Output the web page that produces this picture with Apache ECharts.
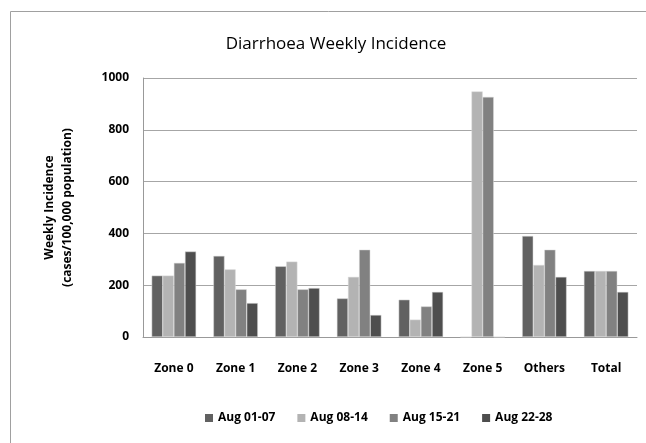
<!DOCTYPE html>
<html>
<head>
<meta charset="utf-8">
<script src="https://cdn.jsdelivr.net/npm/echarts@6/dist/echarts.min.js"></script>
<style>
  html, body { margin: 0; padding: 0; background: #fff; }
  #chart { width: 646px; height: 443px; }
</style>
</head>
<body>
<div id="chart"></div>
<script>
// categories and weekly values (cases / 100,000)
const zones = ["Zone 0", "Zone 1", "Zone 2", "Zone 3", "Zone 4", "Zone 5", "Others", "Total"];
const weeks = ["Aug 01-07", "Aug 08-14", "Aug 15-21", "Aug 22-28"];
const aug0107 = [237, 313, 273, 149, 144, 0, 390, 255];
const aug0814 = [237, 261, 291, 232, 67, 948, 278, 255];
const aug1521 = [286, 184, 184, 337, 118, 927, 337, 255];
const aug2228 = [330, 131, 189, 85, 174, 0, 232, 174];
const colors = ["#616161", "#b3b3b3", "#818181", "#4e4e4e"];

const chart = echarts.init(document.getElementById("chart"));
const font = "'Open Sans', 'Liberation Sans', sans-serif";

chart.setOption({
  animation: false,
  textStyle: { fontFamily: font },
  graphic: [{
    type: "rect",
    shape: { x: 10.5, y: 11.5, width: 640, height: 440 },
    style: { fill: "none", stroke: "#a0a0a0", lineWidth: 1 },
  }],
  title: {
    text: "Diarrhoea Weekly Incidence",
    left: 331,
    textAlign: "center",
    top: 31,
    textStyle: { fontSize: 17, fontWeight: 500, color: "#000", fontFamily: font },
  },
  legend: {
    data: weeks,
    bottom: 14,
    left: 200,
    itemWidth: 8,
    itemHeight: 8,
    itemGap: 22,
    icon: "rect",
    itemStyle: { borderWidth: 0 },
    textStyle: { fontSize: 12, fontWeight: "bold", color: "#000", fontFamily: font },
  },
  grid: { left: 143, right: 9, top: 78, bottom: 106, containLabel: false },
  xAxis: {
    type: "category",
    data: zones,
    axisLine: { lineStyle: { color: "#999", width: 1 } },
    axisTick: { show: false },
    axisLabel: { fontSize: 12, fontWeight: "bold", color: "#000", margin: 26 },
  },
  yAxis: {
    type: "value",
    min: 0,
    max: 1000,
    interval: 200,
    name: "Weekly Incidence\n(cases/100,000 population)",
    nameLocation: "middle",
    nameGap: 66,
    nameRotate: 90,
    nameTextStyle: { fontSize: 12, fontWeight: "bold", color: "#000", lineHeight: 18 },
    axisLine: { show: true, lineStyle: { color: "#999", width: 1 } },
    axisTick: { show: false },
    axisLabel: { fontSize: 12, fontWeight: "bold", color: "#000", margin: 14, formatter: (v) => String(v) },
    splitLine: { lineStyle: { color: "#a6a6a6", width: 1 } },
  },
  series: [aug0107, aug0814, aug1521, aug2228].map((vals, i) => ({
    name: weeks[i],
    type: "bar",
    data: vals,
    barGap: "0%",
    barCategoryGap: "28%",
    itemStyle: { color: colors[i], borderColor: "#d8d8d8", borderWidth: 0.5 },
  })),
  color: colors,
});
</script>
</body>
</html>
